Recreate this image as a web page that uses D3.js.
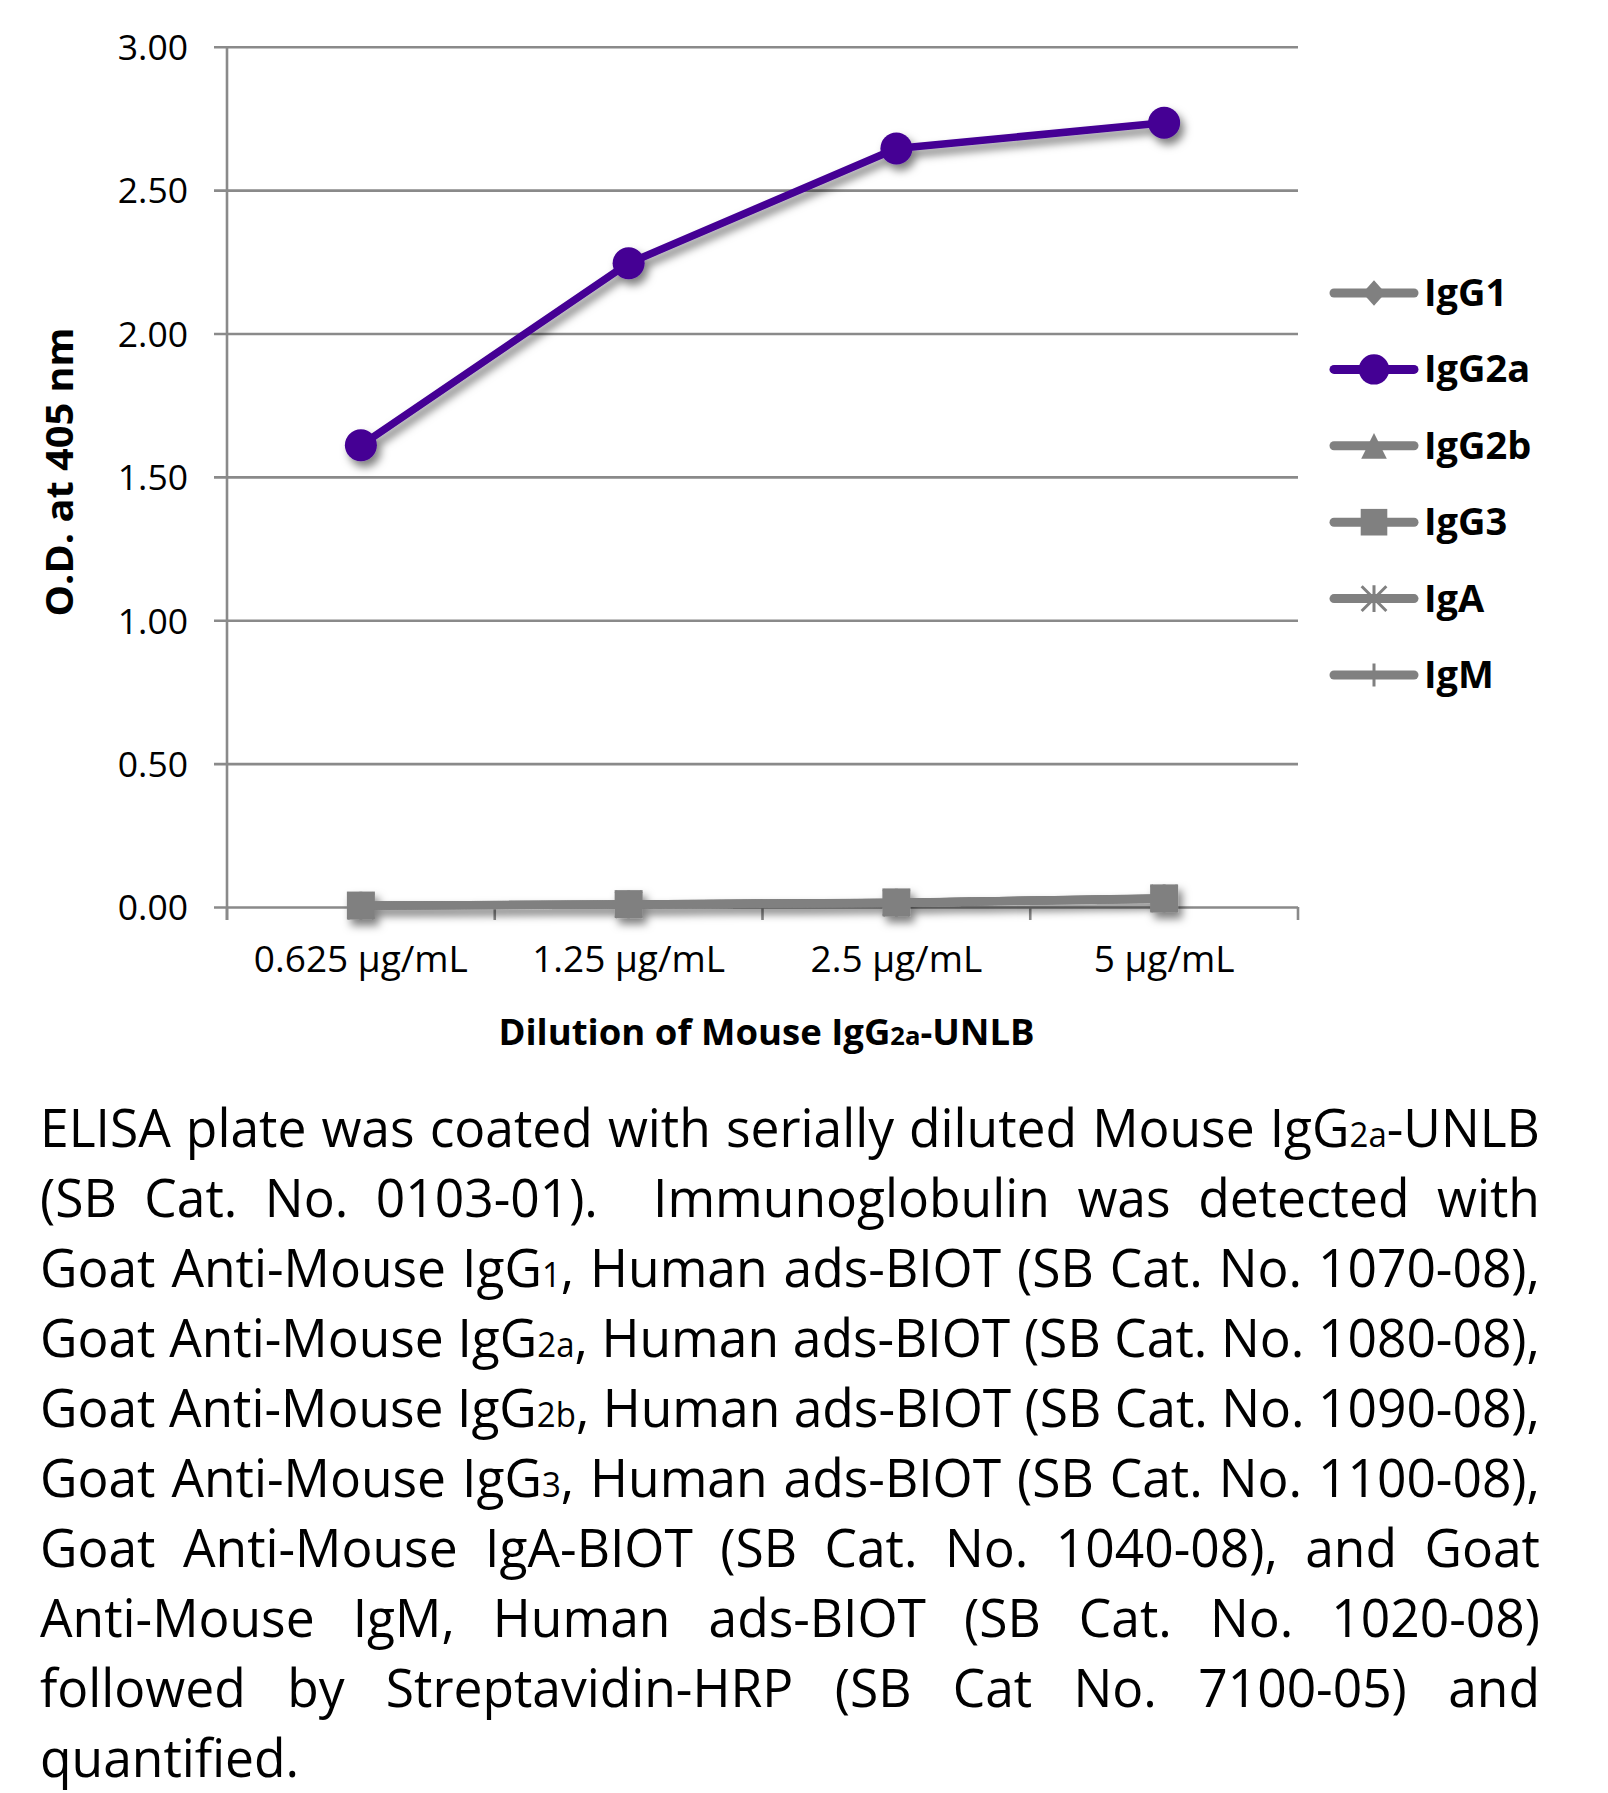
<!DOCTYPE html>
<html>
<head>
<meta charset="utf-8">
<script src="https://cdn.jsdelivr.net/npm/d3@7"></script>
<style>
  html, body { margin: 0; padding: 0; background: #fff; }
  svg { display: block; }
  text { font-family: "Open Sans", "Noto Sans", sans-serif; fill: #000; }
</style>
</head>
<body>
<svg id="chart" width="1608" height="1793"></svg>
<script>
// ---------------- DATA ----------------
const categories = ["0.625 \u00b5g/mL", "1.25 \u00b5g/mL", "2.5 \u00b5g/mL", "5 \u00b5g/mL"];
const seriesNames = ["IgG1", "IgG2a", "IgG2b", "IgG3", "IgA", "IgM"];
const valuesIgG1  = [0.004, 0.008, 0.014, 0.028];
const valuesIgG2a = [1.61, 2.245, 2.645, 2.735];
const valuesIgG2b = [0.005, 0.009, 0.015, 0.029];
const valuesIgG3  = [0.005, 0.010, 0.016, 0.030];
const valuesIgA   = [0.004, 0.009, 0.015, 0.030];
const valuesIgM   = [0.005, 0.010, 0.015, 0.031];
const markerTypes = ["diamond", "circle", "triangle", "square", "star", "plus"];
const seriesColors = ["#808080", "#440094", "#808080", "#808080", "#808080", "#808080"];
const yTicks = [0, 0.5, 1.0, 1.5, 2.0, 2.5, 3.0];
const yTitle = "O.D. at 405 nm";
const xTitle = "Dilution of Mouse IgG{2a}-UNLB";
const captionLines = [
  "ELISA plate was coated with serially diluted Mouse IgG{2a}-UNLB",
  "(SB Cat. No. 0103-01).  Immunoglobulin was detected with",
  "Goat Anti-Mouse IgG{1}, Human ads-BIOT (SB Cat. No. 1070-08),",
  "Goat Anti-Mouse IgG{2a}, Human ads-BIOT (SB Cat. No. 1080-08),",
  "Goat Anti-Mouse IgG{2b}, Human ads-BIOT (SB Cat. No. 1090-08),",
  "Goat Anti-Mouse IgG{3}, Human ads-BIOT (SB Cat. No. 1100-08),",
  "Goat Anti-Mouse IgA-BIOT (SB Cat. No. 1040-08), and Goat",
  "Anti-Mouse IgM, Human ads-BIOT (SB Cat. No. 1020-08)",
  "followed by Streptavidin-HRP (SB Cat No. 7100-05) and",
  "quantified."
];
const seriesValues = [valuesIgG1, valuesIgG2a, valuesIgG2b, valuesIgG3, valuesIgA, valuesIgM];

// ---------------- LAYOUT ----------------
const plotLeft = 227, plotRight = 1298, plotTop = 46.7, plotBottom = 907;
const svg = d3.select("#chart");
const GRID = "#8a8a8a";

const defs = svg.append("defs");
const f = defs.append("filter").attr("id", "shadow")
  .attr("x", "-20%").attr("y", "-20%").attr("width", "140%").attr("height", "140%");
f.append("feDropShadow").attr("dx", 4).attr("dy", 6).attr("stdDeviation", 4)
  .attr("flood-color", "#000").attr("flood-opacity", 0.5);

const x = d3.scaleBand().domain(categories).range([plotLeft, plotRight]).padding(0);
const y = d3.scaleLinear().domain([0, 3]).range([plotBottom, plotTop]);
const cx = c => x(c) + x.bandwidth() / 2;

function richText(sel, str, smallRatio) {
  const parts = str.split(/(\{[^}]*\})/).filter(p => p.length);
  parts.forEach(p => {
    if (p.startsWith("{")) {
      sel.append("tspan").attr("font-size", smallRatio + "em").text(p.slice(1, -1));
    } else {
      sel.append("tspan").text(p);
    }
  });
  return sel;
}

// gridlines + y labels
const yAxis = d3.axisLeft(y).tickValues(yTicks).tickFormat(d3.format(".2f"))
  .tickSizeInner(-(plotRight - 214)).tickSizeOuter(0).tickPadding(26);
const gy = svg.append("g").attr("transform", "translate(214,0)").call(yAxis);
gy.select(".domain").remove();
gy.selectAll(".tick line").attr("stroke", GRID).attr("stroke-width", 2.6);
gy.selectAll(".tick text").attr("font-size", 35.5).attr("font-family", "Open Sans")
  .attr("fill", "#000").attr("dy", "0.36em");

svg.append("line").attr("x1", plotLeft).attr("x2", plotLeft)
  .attr("y1", plotTop).attr("y2", plotBottom + 13)
  .attr("stroke", GRID).attr("stroke-width", 2.6);

const bounds = categories.map(c => x(c)).concat([x(categories[categories.length - 1]) + x.step()]);
svg.append("g").selectAll("line").data(bounds).join("line")
  .attr("x1", d => d).attr("x2", d => d)
  .attr("y1", plotBottom).attr("y2", plotBottom + 13)
  .attr("stroke", GRID).attr("stroke-width", 2.6);

const xAxis = d3.axisBottom(x).tickSize(0).tickPadding(0);
const gx = svg.append("g").attr("transform", `translate(0,${plotBottom})`).call(xAxis);
gx.select(".domain").remove();
gx.selectAll(".tick text").attr("font-size", 37).attr("font-family", "Open Sans")
  .attr("fill", "#000").attr("dy", null).attr("y", 65);

richText(svg.append("text").attr("x", (plotLeft + plotRight) / 2 + 4).attr("y", 1045)
  .attr("text-anchor", "middle").attr("font-size", 36.5).attr("font-weight", "bold"), xTitle, 0.7);
svg.append("text").attr("transform", "translate(73,472) rotate(-90)")
  .attr("text-anchor", "middle").attr("font-size", 37).attr("font-weight", "bold")
  .attr("textLength", 289).attr("lengthAdjust", "spacingAndGlyphs")
  .text(yTitle);

function drawMarker(g, type, color, px, py, scale) {
  const s = scale;
  if (type === "circle") {
    g.append("circle").attr("cx", px).attr("cy", py).attr("r", 16 * s).attr("fill", color);
  } else if (type === "square") {
    g.append("rect").attr("x", px - 14 * s).attr("y", py - 14 * s)
      .attr("width", 28 * s).attr("height", 28 * s).attr("fill", color);
  } else if (type === "diamond") {
    const w = 12 * s, h = 13.5 * s;
    g.append("path").attr("d", `M${px},${py - h}L${px + w},${py}L${px},${py + h}L${px - w},${py}Z`).attr("fill", color);
  } else if (type === "triangle") {
    const w = 13.5 * s, h = 13.5 * s;
    g.append("path").attr("d", `M${px},${py - h}L${px + w},${py + h}L${px - w},${py + h}Z`).attr("fill", color);
  } else if (type === "star") {
    const r = 13 * s;
    const d = `M${px - r},${py - r}L${px + r},${py + r}M${px + r},${py - r}L${px - r},${py + r}M${px},${py - r - 1}L${px},${py + r + 1}M${px - r},${py}L${px + r},${py}`;
    g.append("path").attr("d", d).attr("stroke", color).attr("stroke-width", 3).attr("fill", "none");
  } else if (type === "plus") {
    const r = 12 * s;
    g.append("path").attr("d", `M${px},${py - r}L${px},${py + r}M${px - r},${py}L${px + r},${py}`)
      .attr("stroke", color).attr("stroke-width", 3).attr("fill", "none");
  }
}

// series (single shadow for all series)
const seriesG = svg.append("g").attr("filter", "url(#shadow)");
const line = d3.line().x((d, i) => cx(categories[i])).y(d => y(d));
seriesNames.forEach((name, si) => {
  const g = seriesG.append("g");
  const vals = seriesValues[si];
  g.append("path").datum(vals).attr("d", line)
    .attr("fill", "none").attr("stroke", seriesColors[si])
    .attr("stroke-width", si === 1 ? 7.5 : 8).attr("stroke-linejoin", "round");
  vals.forEach((v, i) => drawMarker(g, markerTypes[si], seriesColors[si], cx(categories[i]), y(v), 1));
});

// legend
const legendY0 = 293, legendStep = 76.4;
seriesNames.forEach((name, si) => {
  const ly = legendY0 + si * legendStep;
  const g = svg.append("g");
  g.append("line").attr("x1", 1334).attr("x2", 1414).attr("y1", ly).attr("y2", ly)
    .attr("stroke", seriesColors[si]).attr("stroke-width", 9).attr("stroke-linecap", "round");
  drawMarker(g, markerTypes[si], seriesColors[si], 1374, ly, 0.95);
  g.append("text").attr("x", 1424).attr("y", ly + 13).attr("font-size", 38)
    .attr("font-weight", "bold").text(name);
});

// caption (justified)
const capLeft = 40, capRight = 1540, capW = capRight - capLeft;
const capSize = 53, capBase0 = 1147, capStep = 70;
const capG = svg.append("g");
const measure = svg.append("text").attr("font-size", capSize).attr("x", -5000).attr("y", -5000);
function wordWidth(w) {
  measure.selectAll("*").remove(); measure.text(null);
  if (!w.length) return 0;
  richText(measure, w, 0.64);
  return measure.node().getComputedTextLength();
}
measure.text("a a"); const aa = measure.node().getComputedTextLength();
measure.text("aa"); const spaceW = aa - measure.node().getComputedTextLength();
const lineData = captionLines.map(l => {
  const words = l.split(" ");
  const widths = words.map(wordWidth);
  const sum = d3.sum(widths);
  return { words, widths, sum, natural: sum + (words.length - 1) * spaceW };
});
const justified = lineData.slice(0, -1);
const sx = d3.min(justified, d => capW / d.natural);
lineData.forEach((ld, li) => {
  const isLast = li === lineData.length - 1;
  const gap = isLast ? spaceW : (capW / sx - ld.sum) / (ld.words.length - 1);
  const lg = capG.append("g").attr("transform", `translate(${capLeft},${capBase0 + li * capStep}) scale(${sx},1)`);
  let cur = 0;
  ld.words.forEach((w, wi) => {
    if (w.length) {
      richText(lg.append("text").attr("x", cur).attr("y", 0).attr("font-size", capSize), w, 0.64);
    }
    cur += ld.widths[wi] + gap;
  });
});
measure.remove();
</script>
</body>
</html>
